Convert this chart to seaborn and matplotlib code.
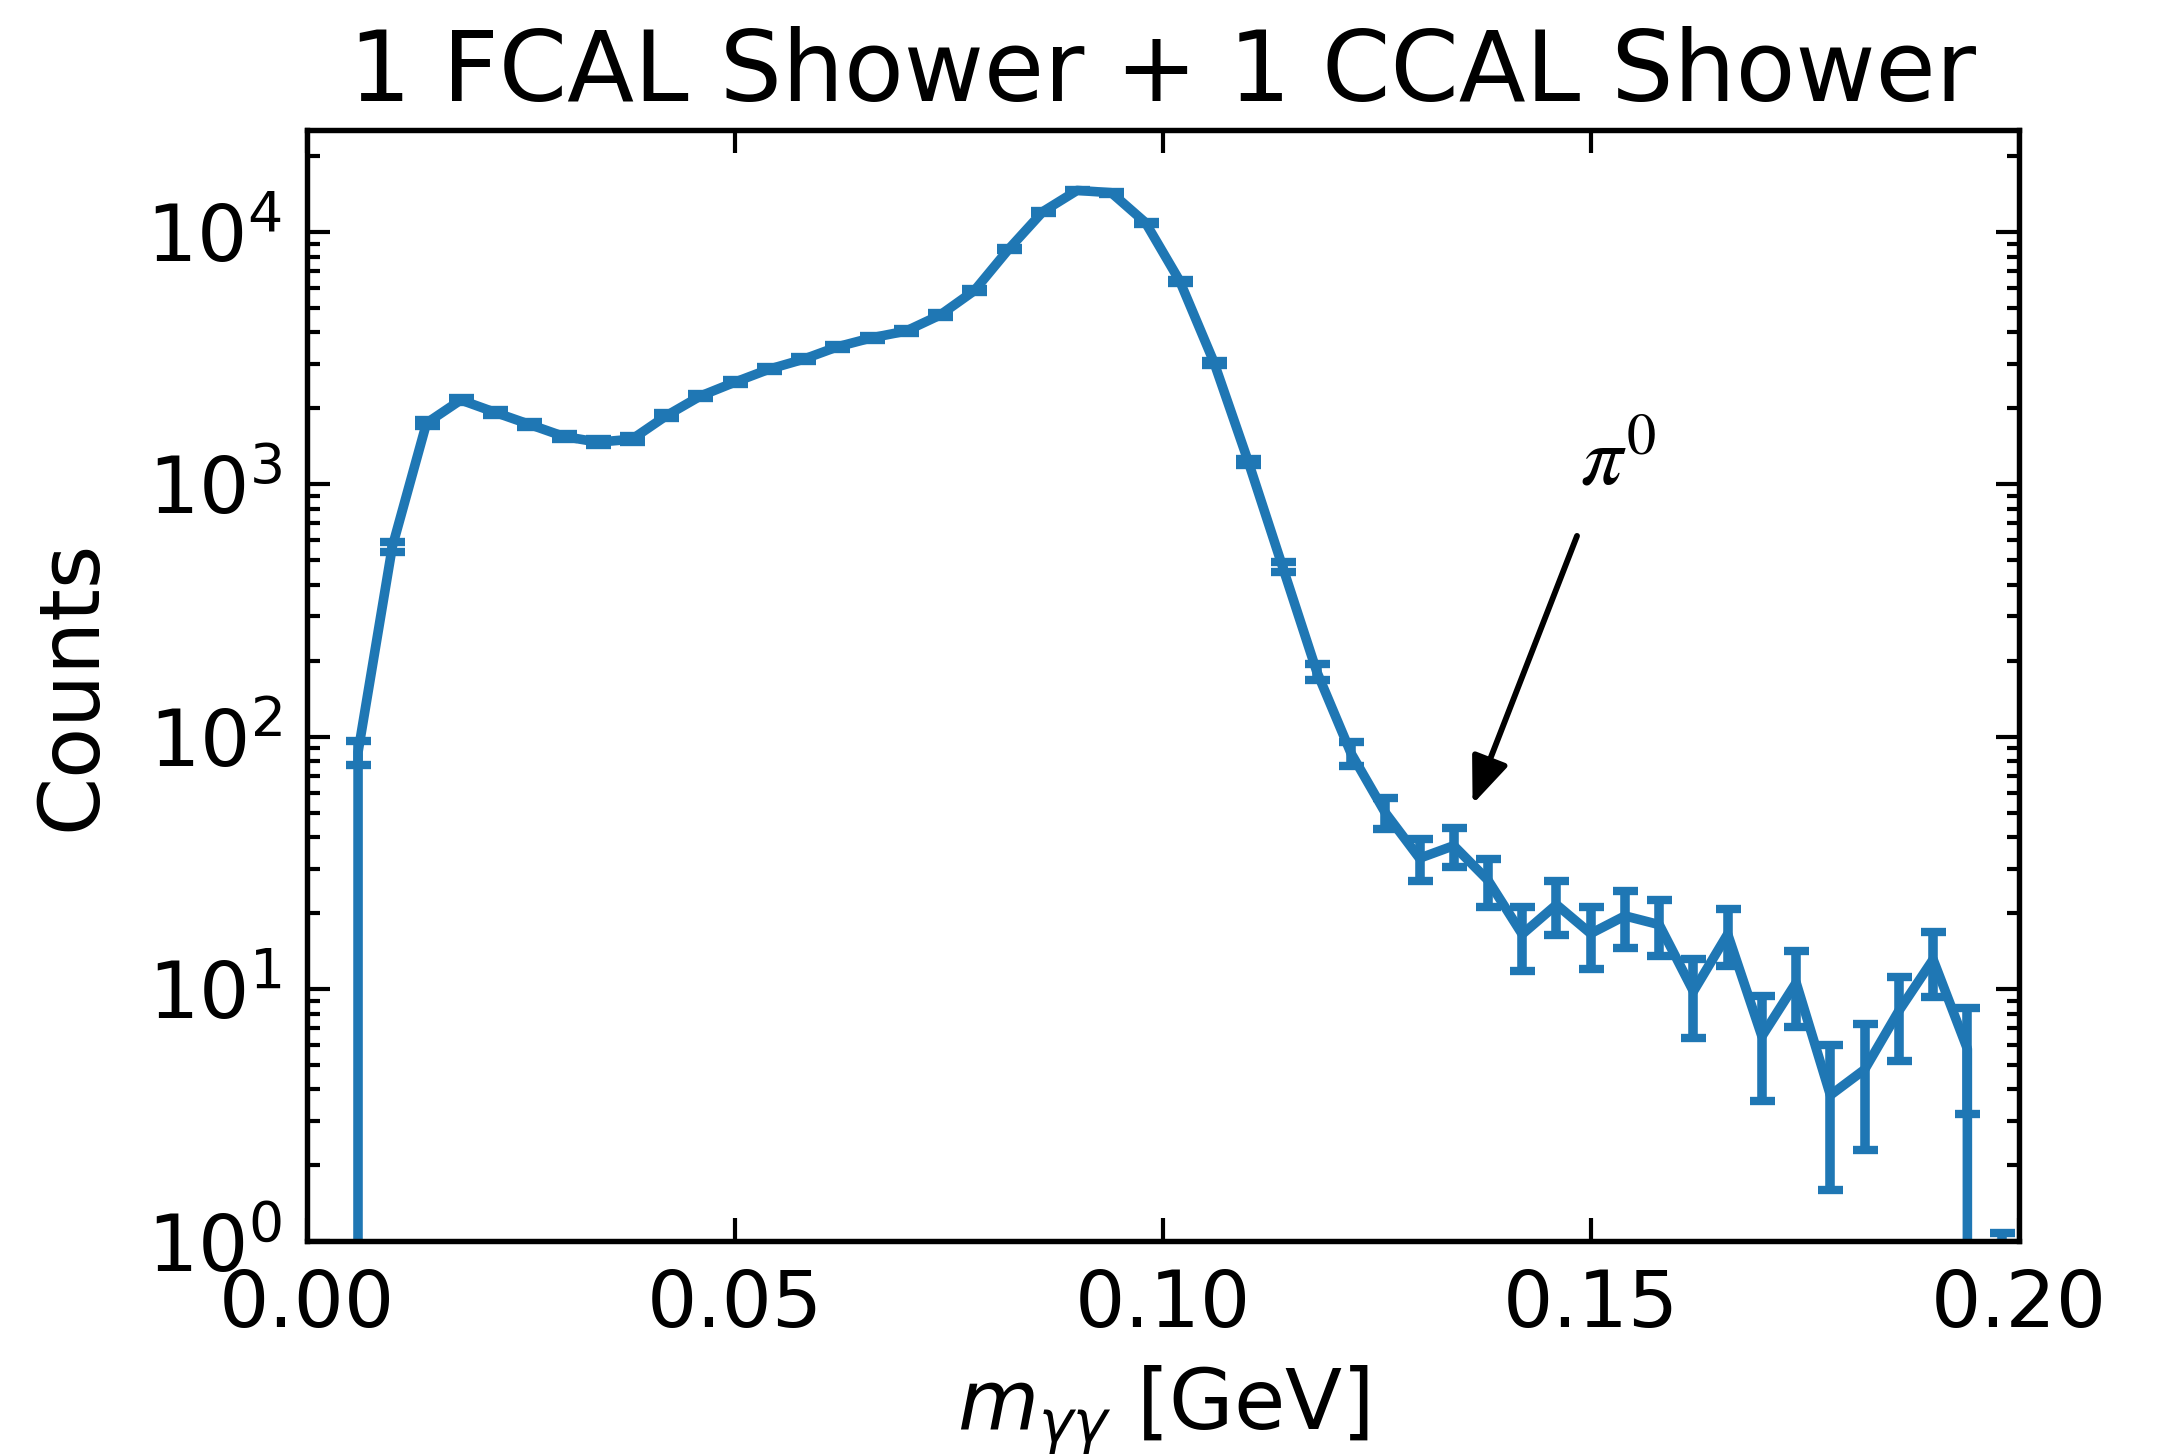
import numpy as np
import pandas as pd
import matplotlib
matplotlib.use("Agg")
import matplotlib.pyplot as plt
import seaborn as sns

# Invariant mass bin centres [GeV] (bin width 4 MeV) and counts
mass_gev = [0.002, 0.006, 0.010, 0.014, 0.018, 0.022, 0.026, 0.030, 0.034, 0.038,
            0.042, 0.046, 0.050, 0.054, 0.058, 0.062, 0.066, 0.070, 0.074, 0.078,
            0.082, 0.086, 0.090, 0.094, 0.098, 0.102, 0.106, 0.110, 0.114, 0.118,
            0.122, 0.126, 0.130, 0.134, 0.138, 0.142, 0.146, 0.150, 0.154, 0.158,
            0.162, 0.166, 0.170, 0.174, 0.178, 0.182, 0.186, 0.190, 0.194, 0.198]
counts = [0, 87, 566, 1750, 2160, 1930, 1730, 1550, 1470, 1510,
          1870, 2240, 2540, 2860, 3130, 3510, 3810, 4050, 4690, 5860,
          8550, 12050, 14620, 14320, 10890, 6390, 3040, 1230, 472, 181,
          86, 50, 33, 37, 27, 16.5, 21.6, 16.6, 19.5, 18,
          9.8, 16.5, 6.5, 10.6, 3.8, 4.8, 8.2, 13.1, 5.8, 0]
errors = [0, 9.5, 24, 42, 46, 44, 42, 39, 38, 39,
          43, 47, 50, 53, 56, 59, 62, 64, 68, 77,
          92, 110, 121, 120, 104, 80, 55, 35, 22, 13.5,
          9.3, 7.1, 6.2, 6.6, 5.9, 4.7, 5.2, 4.6, 4.9, 4.5,
          3.4, 4.2, 2.9, 3.5, 2.2, 2.5, 3.0, 3.8, 2.6, 1.08]

title = "1 FCAL Shower + 1 CCAL Shower"
x_label = r"$m_{\gamma\gamma}$ [GeV]"
y_label = "Counts"
peak_label = r"$\pi^0$"

df = pd.DataFrame({"mass": mass_gev, "counts": counts, "err": errors})

sns.set_style("ticks")
plt.rcParams.update({
    "font.family": ["DejaVu Sans"],
    "font.size": 19,
    "text.color": "black",
    "axes.labelcolor": "black",
    "xtick.color": "black",
    "ytick.color": "black",
    "xtick.direction": "in",
    "ytick.direction": "in",
    "xtick.top": True,
    "ytick.right": True,
    "xtick.major.size": 5.5,
    "ytick.major.size": 5.5,
    "ytick.minor.size": 3,
    "xtick.major.width": 1.0,
    "ytick.major.width": 1.0,
    "ytick.minor.width": 1.0,
    "xtick.major.pad": 6,
    "ytick.major.pad": 6,
    "axes.linewidth": 1.3,
    "axes.edgecolor": "black",
})

fig = plt.figure(figsize=(7.22, 4.847), dpi=300)
ax = fig.add_axes([0.1416, 0.1462, 0.7904, 0.7644])

blue = "#1f77b4"
sns.lineplot(data=df, x="mass", y="counts", ax=ax, color=blue, linewidth=2.3,
             sort=True, estimator=None, errorbar=None)
ax.errorbar(df["mass"], df["counts"], yerr=df["err"], fmt="none", ecolor=blue,
            elinewidth=2.3, capsize=3.0, capthick=2.0)

ax.set_yscale("log")
ax.set_xlim(0.0, 0.2)
ax.set_ylim(1, 2.54e4)
ax.set_xticks([0.0, 0.05, 0.10, 0.15, 0.20])
ax.set_xticklabels(["0.00", "0.05", "0.10", "0.15", "0.20"])
ax.minorticks_off()
ax.yaxis.set_minor_locator(matplotlib.ticker.LogLocator(base=10, subs=np.arange(2, 10)))
ax.yaxis.set_minor_formatter(matplotlib.ticker.NullFormatter())

ax.set_title(title, fontsize=23.5, pad=7)
ax.set_xlabel(x_label, fontsize=20, labelpad=5)
ax.set_ylabel(y_label, fontsize=20, labelpad=8)
ax.tick_params(axis="both", which="major", labelsize=19)

ax.annotate("", xy=(0.1362, 54), xytext=(0.1484, 625),
            arrowprops=dict(arrowstyle="-|>,head_length=0.5,head_width=0.2",
                            color="black", lw=1.4, shrinkA=0, shrinkB=0))
ax.text(0.1488, 1000, peak_label, fontsize=20, math_fontfamily="stix",
        ha="left", va="baseline")

fig.savefig("out.png", dpi=300)
